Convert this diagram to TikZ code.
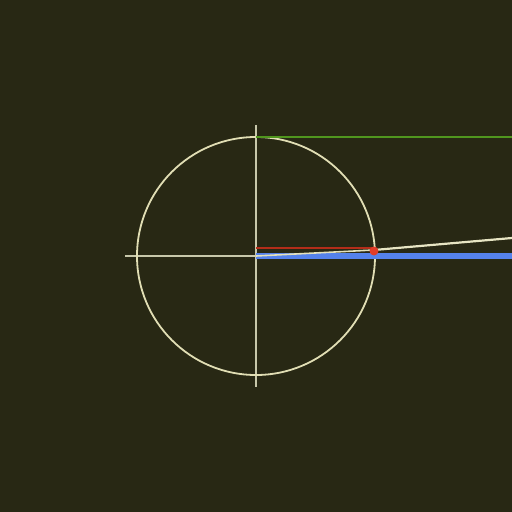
\documentclass[tikz,border=0pt]{standalone}
\usepackage{tikz}
\usetikzlibrary{calc}
\definecolor{bgolive}{RGB}{40,40,20}
\definecolor{circcream}{RGB}{225,222,180}
\definecolor{axiscream}{RGB}{200,200,170}
\definecolor{tangreen}{RGB}{80,150,30}
\definecolor{cosblue}{RGB}{85,130,235}
\definecolor{sinred}{RGB}{180,45,25}
\definecolor{dotred}{RGB}{225,60,40}
\tikzset{
    axisln/.style={draw=axiscream, line width=1.2bp},
    circln/.style={draw=circcream, line width=1.8bp},
    tanln/.style={draw=tangreen, line width=1.2bp},
    cosln/.style={draw=cosblue, line width=6bp},
    sinln/.style={draw=sinred, line width=2.2bp},
    radln/.style={draw=circcream!90!white, line width=1.6bp},
    wave/.style={draw=circcream!80!white, line width=2.2bp},
    pdot/.style={circle, fill=dotred, inner sep=0pt, minimum size=9bp},
}
\begin{document}
\begin{tikzpicture}[x=1bp,y=-1bp]
    \fill[bgolive] (0,0) rectangle (512,512);
    \useasboundingbox (0,0) rectangle (512,512);
    \coordinate (o) at (256,256);
    \coordinate (top) at (256,137);
    \coordinate (p) at (374,250);
    % axes
    \draw[axisln] (125,256) coordinate (xl) -- (388,256) coordinate (xr);
    \draw[axisln] (256,125) coordinate (yt) -- (256,387) coordinate (yb);
    \draw[circln] (o) circle[radius=119];
    \draw[tanln] (top) -- (512,137) coordinate (tr);
    \draw[cosln] (o) -- (512,256) coordinate (cr);
    \draw[sinln] (256,248) coordinate (sl) -- (374,248) coordinate (sr);
    \draw[radln] (o) -- (p);
    \draw[wave] (p) -- (512,238) coordinate (wr);
    \node[pdot] (pt) at (374,251) {};
\end{tikzpicture}
\end{document}
